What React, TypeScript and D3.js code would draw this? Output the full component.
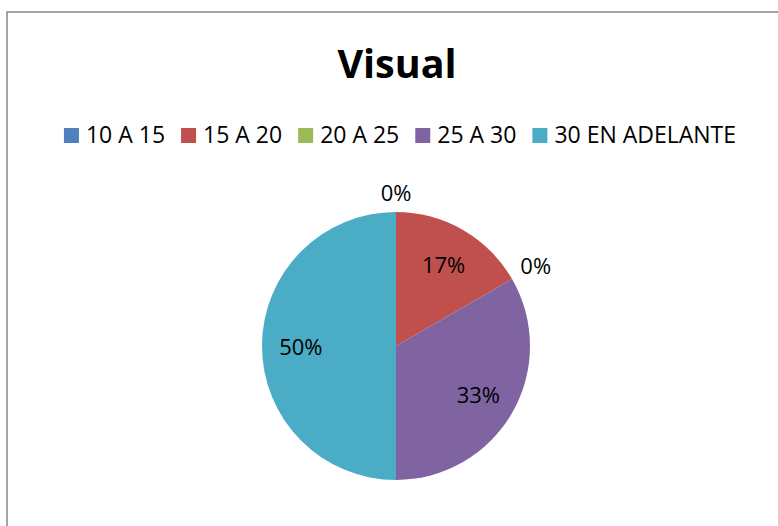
import React, { useEffect, useRef } from "react";
import * as d3 from "d3";

const categories = ["10 A 15", "15 A 20", "20 A 25", "25 A 30", "30 EN ADELANTE"];
const values = [0, 1, 0, 2, 3];
const colors = ["#4F81BD", "#C0504D", "#9BBB59", "#8064A2", "#4BACC6"];
const title = "Visual";

const W = 778;
const H = 526;
const FONT = "'Open Sans', sans-serif";

export default function App() {
  const ref = useRef<SVGSVGElement | null>(null);

  useEffect(() => {
    const svg = d3.select(ref.current);
    svg.selectAll("*").remove();

    // border
    svg.append("rect")
      .attr("x", 7).attr("y", 12)
      .attr("width", 820).attr("height", 600)
      .attr("fill", "white")
      .attr("stroke", "#878787")
      .attr("stroke-width", 1.5);

    // title
    svg.append("text")
      .attr("x", 397).attr("y", 78)
      .attr("text-anchor", "middle")
      .attr("font-family", FONT)
      .attr("font-weight", "bold")
      .attr("font-size", 39.5)
      .attr("fill", "#000")
      .text(title);

    // legend
    const legendFont = 23;
    const sq = 15;
    const sqGap = 7;
    const itemGap = 16;
    const lg = svg.append("g");
    const items = lg.selectAll("g").data(categories).join("g");
    items.append("rect")
      .attr("width", sq).attr("height", sq)
      .attr("y", 128)
      .attr("fill", (_, i) => colors[i]);
    const texts = items.append("text")
      .attr("x", sq + sqGap)
      .attr("y", 143)
      .attr("font-family", FONT)
      .attr("font-size", legendFont)
      .attr("fill", "#000")
      .text((d) => d);
    const widths: number[] = [];
    texts.each(function () {
      widths.push((this as SVGTextElement).getComputedTextLength());
    });
    const itemW = widths.map((w) => sq + sqGap + w);
    const total = d3.sum(itemW) + itemGap * (itemW.length - 1);
    const x0 = 400 - total / 2;
    items.attr("transform", (_, i) => {
      const x = x0 + d3.sum(itemW.slice(0, i)) + itemGap * i;
      return `translate(${x},0)`;
    });

    // pie
    const cx = 396, cy = 346, r = 134;
    const pie = d3.pie<number>().sort(null).value((d) => d);
    const arcs = pie(values);
    const arc = d3.arc<d3.PieArcDatum<number>>().innerRadius(0).outerRadius(r);
    const g = svg.append("g").attr("transform", `translate(${cx},${cy})`);
    g.selectAll("path").data(arcs).join("path")
      .attr("d", arc)
      .attr("fill", (_, i) => colors[i]);

    const sumV = d3.sum(values);
    const labelFont = 22;
    arcs.forEach((a) => {
      const pct = Math.round((a.data / sumV) * 100) + "%";
      const mid = (a.startAngle + a.endAngle) / 2;
      const t = g.append("text")
        .attr("font-family", FONT)
        .attr("font-size", labelFont)
        .attr("fill", "#000")
        .attr("text-anchor", "middle")
        .attr("dominant-baseline", "central")
        .text(pct);
      if (a.data > 0) {
        const rr = r * 0.71;
        t.attr("x", Math.sin(mid) * rr).attr("y", -Math.cos(mid) * rr);
      } else {
        const tw = (t.node() as SVGTextElement).getComputedTextLength();
        const th = 24;
        const ext = Math.abs(Math.sin(mid)) * tw / 2 + Math.abs(Math.cos(mid)) * th / 2;
        const d = r + 8 + ext;
        t.attr("x", Math.sin(mid) * d).attr("y", -Math.cos(mid) * d);
      }
    });
  }, []);

  return (
    <svg
      ref={ref}
      width={W}
      height={H}
      style={{ position: "absolute", left: 0, top: 0, background: "white" }}
    />
  );
}
